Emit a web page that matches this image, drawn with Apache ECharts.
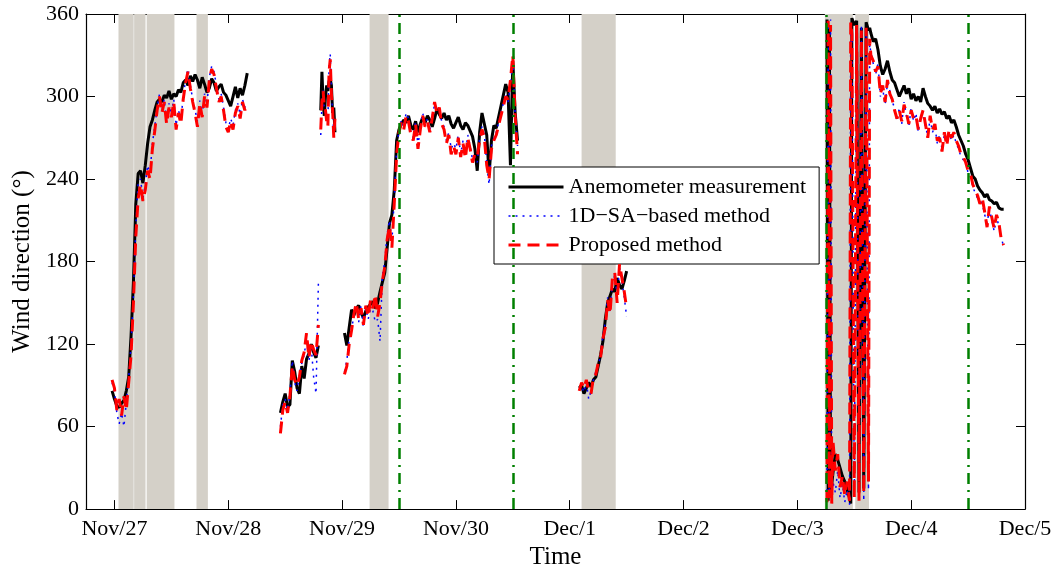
<!DOCTYPE html>
<html>
<head>
<meta charset="utf-8">
<script src="https://cdn.jsdelivr.net/npm/echarts@6/dist/echarts.min.js"></script>
<style>
  html, body { margin: 0; padding: 0; background: #fff; }
  #chart { width: 1063px; height: 575px; }
</style>
</head>
<body>
<div id="chart"></div>
<script>
// Sample times in hours after Nov/27 00:00; a null value row breaks the traces.
const hours = [
  -0.5,0,0.5,1,1.5,2,2.5,3,3.5,4,4.5,5,5.5,6,6.5,7,7.5,8,8.5,9,9.5,10,10.5,11,11.5,12,12.5,13,13.5,14,14.5,15,15.5,16,16.5,17,17.5,18,18.5,19,19.5,20,20.5,21,21.5,22,22.5,23,23.5,24,24.5,25,25.5,26,26.5,27,27.5,28,
  28.5,
  35,35.5,36,36.5,37,37.5,38,38.5,39,39.5,40,40.5,41,41.5,42,42.5,43,
  43.25,
  43.5,43.75,44,44.25,44.5,44.75,45,45.25,45.5,45.75,46,46.25,46.5,
  47,
  48.5,49,49.5,50,50.5,51,51.5,52,52.5,53,53.5,54,54.5,55,55.5,56,56.5,57,57.5,58,58.5,59,59.5,60,60.5,61,61.5,62,62.5,63,63.5,64,64.5,65,65.5,66,66.5,67,67.5,68,68.5,69,69.5,70,70.5,71,71.5,72,72.5,73,73.5,74,74.5,75,75.5,76,76.5,77,77.5,78,78.5,79,79.5,80,80.5,82.5,83,83.5,84,84.5,85,
  90,
  98,98.5,99,99.5,100,100.5,101,101.5,102,102.5,103,103.5,104,104.5,105,105.5,106,106.5,107,107.5,108,
  120,
  150.25,150.5,150.75,151,151.25,151.5,152,152.5,153,153.5,154,154.5,155,155.25,155.5,156,156.5,157,157.5,158,158.5,159,159.25,
  159.5,160,160.5,161,161.5,162,162.5,163,163.5,164,164.5,165,165.5,166,166.5,167,167.5,168,168.5,169,169.5,170,170.5,171,171.5,172,172.5,173,173.5,174,174.5,175,175.5,176,176.5,177,177.5,178,178.5,179,179.5,180,180.5,181,181.5,182,182.5,183,183.5,184,184.5,185,185.5,186,186.5,187,187.5
];

// Wind direction in degrees
const anemometer = [
  86,80,75,74,77,79,86,96,126,165,222,244,246,237,250,266,278,283,290,296,298,296,301,299,304,298,302,300,305,303,310,312,308,315,311,316,312,306,314,309,303,306,313,310,304,307,309,303,301,297,293,300,307,299,306,301,308,317,
  null,
  70,78,84,74,76,108,100,88,84,104,95,109,113,120,114,110,119,
  null,
  290,318,296,286,300,308,304,311,313,308,288,292,274,
  null,
  128,119,132,145,141,146,148,143,139,144,147,149,151,146,150,158,165,172,190,208,214,232,268,276,280,283,281,286,279,276,282,274,280,285,281,286,283,278,284,291,287,284,288,283,286,280,277,281,285,279,276,281,279,275,271,262,246,274,288,280,272,243,268,279,277,309,303,250,326,288,268,
  null,
  88,90,84,88,92,89,94,96,104,112,122,138,150,155,160,158,168,163,160,166,173,
  null,
  356,6,350,12,18,26,40,36,30,24,20,14,8,4,357,352,355,12,350,15,354,348,350,
  346,340,342,334,322,316,320,326,318,312,310,305,300,304,308,302,306,298,302,297,300,296,306,300,295,293,290,293,288,291,287,289,284,286,281,283,278,272,268,264,258,254,248,242,240,235,232,230,227,229,225,224,222,223,219,218,218
];

const saBased = [
  92,86,70,62,70,60,78,95,120,155,205,238,240,226,236,250,244,266,278,292,302,290,298,282,295,287,298,279,290,283,300,312,320,308,298,290,282,297,287,302,294,314,322,318,308,298,302,292,281,276,284,279,290,295,287,298,292,296,
  null,
  60,76,80,72,84,108,92,86,98,106,112,124,108,118,96,84,164,
  null,
  272,294,306,290,288,284,280,322,331,304,288,272,282,
  null,
  100,108,124,128,144,148,136,148,132,146,138,146,144,136,138,122,170,180,200,210,194,226,262,276,283,278,288,284,274,270,282,264,278,288,280,284,276,286,294,290,290,282,278,268,274,262,266,262,272,258,268,258,272,264,254,256,252,270,278,272,252,236,264,270,274,302,296,308,326,287,264,
  null,
  88,90,85,92,80,86,94,100,104,112,126,136,154,144,164,170,154,176,166,154,140,
  null,
  8,350,12,356,6,20,12,28,8,18,5,14,3,350,340,10,348,8,352,6,346,14,338,
  332,324,316,324,300,306,294,310,304,296,292,282,292,280,296,286,278,292,282,288,274,286,288,278,272,284,274,278,266,272,262,272,266,274,268,272,266,262,256,254,254,244,242,234,230,226,224,222,214,208,218,210,202,212,206,198,190
];

const proposed = [
  94,88,72,80,68,82,72,92,112,150,198,226,236,224,232,246,240,262,275,290,300,288,296,280,292,285,296,276,288,280,298,310,318,306,296,288,278,295,285,300,292,312,320,316,306,296,300,290,278,274,282,276,288,293,284,296,290,294,
  null,
  55,72,78,70,82,104,94,90,96,108,114,128,110,122,116,112,134,
  null,
  276,296,304,292,290,282,278,318,327,302,290,270,284,
  null,
  98,104,120,130,142,150,138,146,134,148,140,152,146,156,140,150,166,176,196,206,190,222,258,274,281,276,286,282,272,268,280,262,276,286,278,282,274,284,296,288,292,280,276,266,272,258,264,258,270,256,266,255,270,262,252,258,256,268,276,270,250,240,262,268,272,300,298,312,330,285,258,
  null,
  86,92,88,94,86,84,96,98,106,110,124,132,152,142,168,172,150,178,168,158,146,
  null,
  5,355,8,352,4,50,28,40,16,24,10,20,6,354,345,8,352,6,348,12,350,20,342,
  330,326,318,322,302,308,296,312,302,298,290,284,290,282,294,288,280,290,284,286,276,284,290,280,270,286,276,280,268,270,260,274,264,276,270,274,268,264,258,256,252,246,244,236,232,228,222,226,216,205,220,212,204,214,208,196,192
];

// Day ticks (hours) and their labels
const dayTicks = [0, 24, 48, 72, 96, 120, 144, 168, 192];
const dayLabels = ['Nov/27', 'Nov/28', 'Nov/29', 'Nov/30', 'Dec/1', 'Dec/2', 'Dec/3', 'Dec/4', 'Dec/5'];

// Shaded intervals [start, end] in hours
const shadedSpans = [
  [0.85, 4.05], [4.15, 6.55], [6.8, 12.65], [17.3, 19.7],
  [53.8, 57.8], [98.5, 105.7], [149.8, 155.7], [156.2, 159.1]
];

// Marked event times in hours
const eventHours = [60, 84, 150, 180];

const seriesNames = ['Anemometer measurement', '1D\u2212SA\u2212based method', 'Proposed method'];

const FONT = '"Liberation Serif", "Times New Roman", serif';
const toPairs = arr => hours.map((h, i) => [h, arr[i]]);

const chart = echarts.init(document.getElementById('chart'), null, { renderer: 'canvas' });

const tickStyle = { color: '#000', width: 1 };
const axisLineStyle = { color: '#000', width: 1.2 };

chart.setOption({
  animation: false,
  backgroundColor: '#fff',
  grid: { left: 86, right: 38, top: 14, bottom: 60 },
  xAxis: [
    {
      type: 'value', min: -6, max: 192, position: 'bottom',
      axisLine: { show: true, onZero: false, lineStyle: axisLineStyle },
      axisTick: { show: true, inside: true, length: 9, customValues: dayTicks, lineStyle: tickStyle },
      axisLabel: {
        customValues: dayTicks,
        formatter: v => dayLabels[dayTicks.indexOf(v)],
        fontFamily: FONT, fontSize: 22, color: '#000', margin: 9
      },
      splitLine: { show: false },
      name: 'Time', nameLocation: 'middle', nameGap: 31,
      nameTextStyle: { fontFamily: FONT, fontSize: 25, color: '#000' }
    },
    {
      type: 'value', min: -6, max: 192, position: 'top',
      axisLine: { show: true, onZero: false, lineStyle: axisLineStyle },
      axisTick: { show: true, inside: true, length: 9, customValues: dayTicks, lineStyle: tickStyle },
      axisLabel: { show: false },
      splitLine: { show: false }
    }
  ],
  yAxis: [
    {
      type: 'value', min: 0, max: 360, interval: 60, position: 'left',
      axisLine: { show: true, onZero: false, lineStyle: axisLineStyle },
      axisTick: { show: true, inside: true, length: 9, lineStyle: tickStyle },
      axisLabel: { fontFamily: FONT, fontSize: 22, color: '#000', margin: 7 },
      splitLine: { show: false },
      name: 'Wind direction (\u00b0)', nameLocation: 'middle', nameGap: 46,
      nameTextStyle: { fontFamily: FONT, fontSize: 25, color: '#000' }
    },
    {
      type: 'value', min: 0, max: 360, interval: 60, position: 'right',
      axisLine: { show: true, onZero: false, lineStyle: axisLineStyle },
      axisTick: { show: true, inside: true, length: 9, lineStyle: tickStyle },
      axisLabel: { show: false },
      splitLine: { show: false }
    }
  ],
  legend: {
    data: seriesNames,
    orient: 'vertical',
    left: 494, top: 167,
    padding: [9, 13, 8, 13],
    itemGap: 7,
    itemWidth: 55, itemHeight: 14,
    backgroundColor: '#fff',
    borderColor: '#000', borderWidth: 1, borderRadius: 0,
    itemStyle: { opacity: 0 },
    lineStyle: { width: 'inherit' },
    textStyle: { fontFamily: FONT, fontSize: 22, color: '#000' }
  },
  series: [
    {
      name: 'bands', type: 'line', data: [], z: 1, silent: true,
      markArea: {
        silent: true,
        itemStyle: { color: '#d4d0c8', opacity: 1 },
        data: shadedSpans.map(s => [{ xAxis: s[0] }, { xAxis: s[1] }])
      }
    },
    {
      name: seriesNames[0], type: 'line', data: toPairs(anemometer), z: 2,
      symbol: 'none', showSymbol: false, connectNulls: false,
      lineStyle: { color: '#000', width: 3, type: 'solid' },
      itemStyle: { color: '#000' }
    },
    {
      name: seriesNames[1], type: 'line', data: toPairs(saBased), z: 3,
      symbol: 'none', showSymbol: false, connectNulls: false,
      lineStyle: { color: '#0000ff', width: 1.5, type: [2, 5] },
      itemStyle: { color: '#0000ff' }
    },
    {
      name: seriesNames[2], type: 'line', data: toPairs(proposed), z: 4,
      symbol: 'none', showSymbol: false, connectNulls: false,
      lineStyle: { color: '#ff0000', width: 3, type: [12, 7] },
      itemStyle: { color: '#ff0000' }
    },
    {
      name: 'events', type: 'line', data: [], z: 5, silent: true,
      markLine: {
        silent: true,
        symbol: ['none', 'none'],
        label: { show: false },
        lineStyle: { color: '#008000', width: 2.5, type: [11, 6, 2, 6] },
        data: eventHours.map(h => ({ xAxis: h }))
      }
    }
  ]
});
</script>
</body>
</html>
